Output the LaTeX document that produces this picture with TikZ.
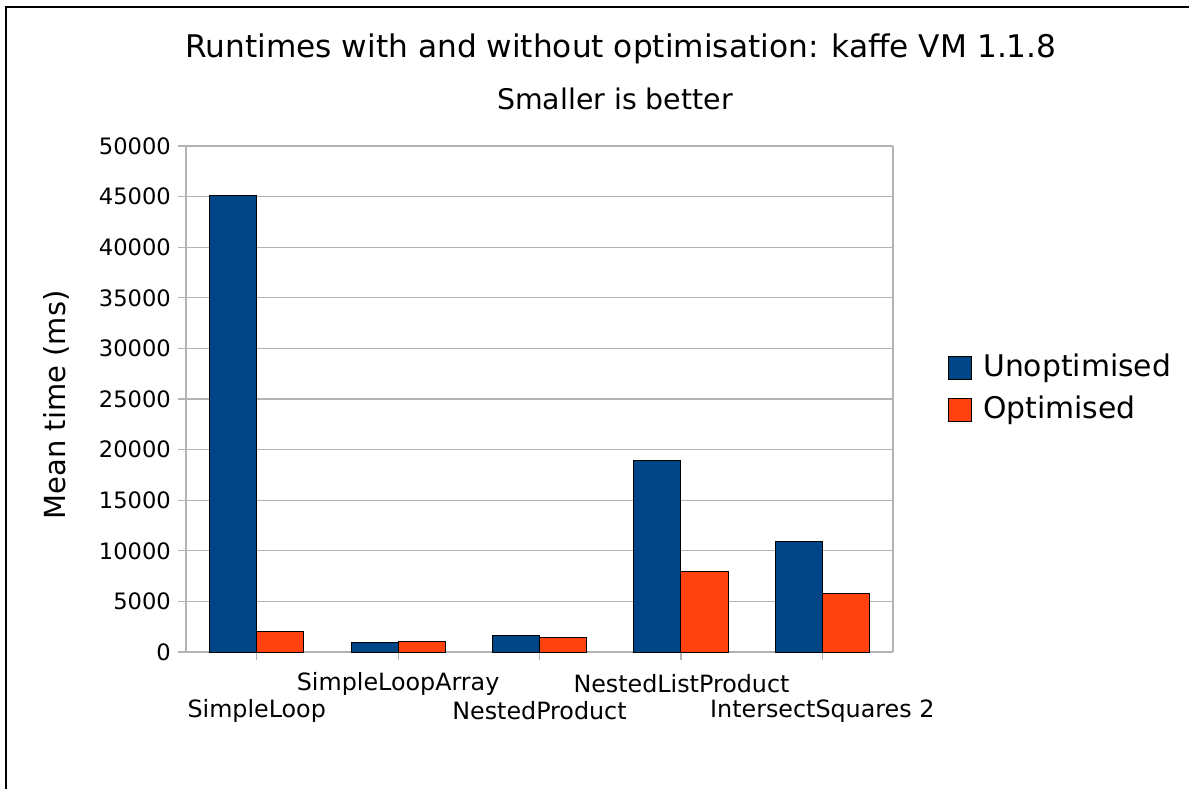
\documentclass[tikz,border=0pt]{standalone}
\usepackage{fontspec}
\setmainfont{DejaVu Sans}
\definecolor{unopt}{HTML}{004586}
\definecolor{opt}{HTML}{FF420E}
\definecolor{gridgrey}{HTML}{B3B3B3}
\tikzset{
  gridline/.style={draw=gridgrey, line width=1.2pt},
  barbox/.style={draw=black, line width=0.9pt},
  ticklabel/.style={anchor=east, inner sep=0pt, font=\fontsize{22.6}{24}\selectfont},
  catlabel/.style={anchor=center, inner sep=0pt, font=\fontsize{23.8}{26}\selectfont},
  legendlabel/.style={anchor=west, inner sep=0pt, font=\fontsize{29.8}{32}\selectfont}
}
\begin{document}
\begin{tikzpicture}[x=1pt,y=-1pt]
  \useasboundingbox (0,0) rectangle (1189,789);
  \fill[white] (0,0) rectangle (1189,789);
  % frame
  \draw[line width=1.5pt] (6,800) -- (6,7) -- (1200,7);

  % titles
  \node (title) at (621,49) {\fontsize{31.2}{34}\selectfont Runtimes with and without optimisation: kaffe VM 1.1.8};
  \node (subtitle) at (615,99) {\fontsize{28.4}{30}\selectfont Smaller is better};

  % grid and value axis
  \foreach \k in {0,...,10}{
    \draw[gridline] (178,{652-50.6*\k}) -- (893,{652-50.6*\k});
    \pgfmathtruncatemacro{\val}{5*\k}
    \ifnum\k=0
      \node[ticklabel] (ytick\k) at (171,{652-50.6*\k}) {0};
    \else
      \node[ticklabel] (ytick\k) at (171,{652-50.6*\k}) {\val000};
    \fi
  }
  \draw[gridline] (186,146) -- (186,652);
  \draw[gridline] (893,146) -- (893,652);
  \foreach \c in {256.7,398.1,539.5,680.9,822.3}
    \draw[gridline] (\c,652) -- (\c,660);

  % bars (values in thousands of ms)
  \foreach \c/\u/\o in {256.7/45.1/2.0, 398.1/0.92/1.09, 539.5/1.65/1.45, 680.9/18.97/8.0, 822.3/10.95/5.76}{
    \draw[barbox, fill=unopt] (\c-47.1,652) rectangle (\c,{652-10.12*\u});
    \draw[barbox, fill=opt] (\c,652) rectangle (\c+47.1,{652-10.12*\o});
  }

  % category labels
  \node[catlabel] (cat1) at (256.7,711) {SimpleLoop};
  \node[catlabel] (cat2) at (398.1,684) {SimpleLoopArray};
  \node[catlabel] (cat3) at (539.5,711) {NestedProduct};
  \node[catlabel] (cat4) at (681.5,684) {NestedListProduct};
  \node[catlabel] (cat5) at (822.3,711) {IntersectSquares 2};

  % axis title
  \node[rotate=90] (ylabel) at (56,405) {\fontsize{29}{31}\selectfont Mean time (ms)};

  % legend
  \draw[barbox, fill=unopt] (948,356) rectangle (971,379);
  \node[legendlabel] (legu) at (983,368) {Unoptimised};
  \draw[barbox, fill=opt] (948,398) rectangle (971,421);
  \node[legendlabel] (lego) at (983,410) {Optimised};
\end{tikzpicture}
\end{document}
